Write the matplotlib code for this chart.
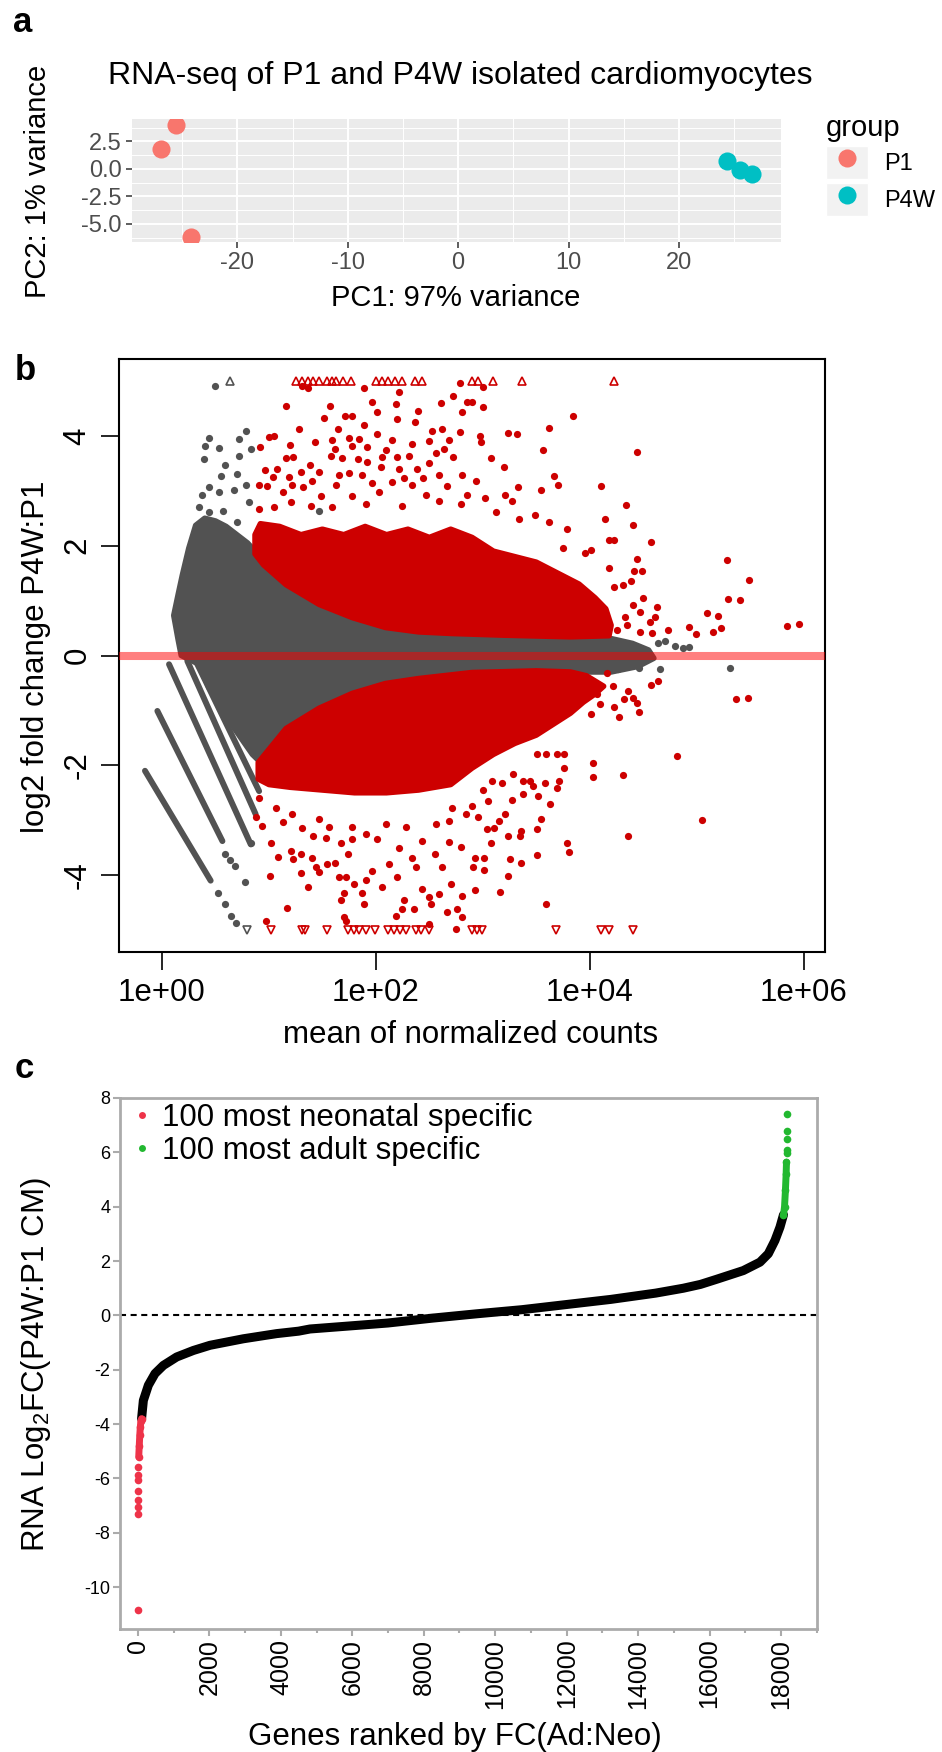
import matplotlib
matplotlib.use('Agg')
import matplotlib.pyplot as plt
import numpy as np
from matplotlib.patches import Polygon, Patch
from matplotlib.lines import Line2D
from matplotlib.legend_handler import HandlerTuple

plt.rcParams['font.family'] = ['Liberation Sans', 'DejaVu Sans']
plt.rcParams['axes.unicode_minus'] = False
plt.rcParams['mathtext.fontset'] = 'custom'
plt.rcParams['mathtext.rm'] = 'Liberation Sans'

W, H = 942, 1752

# ---------------- panel a: PCA ----------------
pc1_p1 = [-25.6, -26.9, -24.2]
pc2_p1 = [4.02, 1.84, -6.17]
pc1_p4w = [24.4, 25.5, 26.6]
pc2_p4w = [0.75, -0.07, -0.43]
pca_xticks = [-20, -10, 0, 10, 20]
pca_xticklabels = ['-20', '-10', '0', '10', '20']
pca_yticks = [-5.0, -2.5, 0.0, 2.5]
pca_yticklabels = ['-5.0', '-2.5', '0.0', '2.5']

# ---------------- panel b: MA plot (log10 mean, log2 FC) ----------------
# dense non-significant cloud outline
gray_cloud_x = [0.18, 0.15, 0.11, 0.15, 0.19, 0.25, 0.315, 0.40, 0.50, 0.60, 0.70, 0.80, 0.87,
                1.16, 1.47, 1.78, 2.09, 2.72, 3.20, 3.82, 4.15, 4.40, 4.55, 4.60, 4.45, 4.20,
                3.80, 3.20, 2.87, 2.40, 2.09, 1.78, 1.47, 1.16, 0.939, 0.845, 0.627, 0.44, 0.346]
gray_cloud_y = [0.0, 0.30, 0.73, 1.10, 1.46, 1.95, 2.37, 2.50, 2.45, 2.35, 2.20, 2.05, 1.90,
                1.25, 0.90, 0.65, 0.48, 0.36, 0.33, 0.31, 0.33, 0.22, 0.10, -0.05, -0.20, -0.30,
                -0.30, -0.27, -0.30, -0.40, -0.50, -0.68, -0.95, -1.30, -1.98, -1.80, -1.19, -0.59, -0.16]
# low-count diagonal streaks (start/end)
streak_x0 = [-0.159, -0.043, 0.066, 0.237, 0.331]
streak_y0 = [-2.10, -1.01, -0.16, -0.10, -0.16]
streak_x1 = [0.455, 0.565, 0.830, 0.876, 0.908]
streak_y1 = [-4.10, -3.38, -3.44, -2.89, -2.47]
gray_pts_x = [0.496, 0.79, 0.72, 0.44, 0.40, 0.53, 0.83, 0.72, 0.39, 0.59, 0.55, 0.70, 0.44,
              0.79, 0.67, 0.53, 0.37, 0.81, 0.57, 0.35, 0.44, 0.70, 1.47, 1.20, 1.38, 1.66,
              4.24, 4.44, 4.64, 4.70, 4.80, 4.87, 4.93, 4.46, 4.66, 5.31, 4.26,
              0.524, 0.59, 0.65, 0.69, 0.59, 0.64, 0.68, 0.774, 0.836]
gray_pts_y = [4.91, 4.08, 3.95, 3.96, 3.81, 3.77, 3.76, 3.64, 3.58, 3.47, 3.27, 3.31, 3.07,
              3.11, 3.01, 2.97, 2.92, 2.79, 2.64, 2.70, 2.61, 2.43, 2.64, 2.16, 1.43, 1.40,
              0.25, 0.16, 0.22, 0.26, 0.17, 0.13, 0.16, -0.22, -0.25, -0.22, -0.25,
              -4.33, -4.53, -4.74, -4.88, -3.61, -3.72, -3.83, -4.13, -3.42]
# dense significant clouds
red_up_x = [0.87, 0.87, 0.92, 1.10, 1.30, 1.50, 1.70, 1.90, 2.10, 2.30, 2.50, 2.70, 2.90, 3.10,
            3.30, 3.50, 3.70, 3.90, 4.05, 4.15, 4.20, 4.18, 3.82, 3.20, 2.72, 2.40, 2.09, 1.78,
            1.47, 1.16, 0.95]
red_up_y = [1.85, 2.20, 2.40, 2.35, 2.20, 2.30, 2.20, 2.35, 2.20, 2.30, 2.15, 2.30, 2.15, 1.90,
            1.80, 1.70, 1.50, 1.30, 1.05, 0.85, 0.55, 0.36, 0.34, 0.37, 0.40, 0.43, 0.51, 0.69,
            0.93, 1.29, 1.65]
red_dn_x = [0.90, 1.16, 1.47, 1.78, 2.09, 2.40, 2.90, 3.50, 3.82, 3.97, 4.13, 4.05, 3.94, 3.82,
            3.66, 3.50, 3.30, 3.10, 2.90, 2.70, 2.40, 2.10, 1.80, 1.50, 1.20, 1.00, 0.90]
red_dn_y = [-1.95, -1.33, -0.96, -0.69, -0.51, -0.42, -0.31, -0.28, -0.30, -0.37, -0.56, -0.70,
            -0.85, -1.05, -1.25, -1.45, -1.60, -1.80, -2.05, -2.35, -2.45, -2.50, -2.50, -2.45,
            -2.40, -2.35, -2.25]
red_pts_x = [1.307, 1.363, 1.893, 2.785, 2.217, 2.725, 2.856, 1.157, 1.575, 1.968, 2.186, 2.613,
             2.398, 1.516, 1.712, 1.781, 2.015, 2.195, 2.364, 2.81, 1.893, 1.282, 1.65, 2.015,
             2.529, 2.622, 2.785, 1.001, 1.048, 1.594, 1.75, 1.843, 2.155, 2.498, 2.685, 0.914,
             1.194, 1.431, 1.618, 1.781, 1.921, 2.093, 2.342, 2.56, 2.638, 1.157, 1.226, 1.578,
             1.681, 1.837, 2.061, 2.195, 2.311, 2.725, 1.382, 1.921, 2.046, 2.498, 0.964, 1.079,
             1.297, 1.469, 1.75, 2.217, 2.389, 1.039, 1.188, 1.407, 1.656, 1.874, 2.264, 2.442,
             2.591, 2.803, 0.908, 0.986, 1.219, 1.319, 1.625, 1.968, 2.155, 2.342, 2.663, 1.132,
             1.484, 1.781, 2.03, 2.467, 2.856, 0.908, 1.048, 1.204, 1.391, 1.594, 1.905, 2.248,
             2.591, 2.794,
             3.006, 2.897, 2.999, 3.841, 3.623, 3.24, 3.318, 2.975, 2.981, 3.567, 4.44, 3.074,
             3.2, 3.667, 2.937, 3.707, 3.333, 3.542, 4.103, 3.208, 3.021, 3.277, 4.337, 3.121,
             3.342, 3.492, 3.62, 4.144, 4.409, 3.785, 4.178, 4.231, 4.571, 3.754, 4.446, 4.184,
             4.415, 4.487, 5.282, 5.488, 4.016, 3.957, 4.315, 4.384, 4.228, 5.291, 5.407, 4.502,
             4.627, 4.409, 5.095, 5.201, 4.471, 4.559, 4.612, 4.736, 4.927, 4.995, 5.151, 5.226,
             5.84, 5.959, 4.58, 4.331, 4.253, 4.346, 4.471,
             0.908, 0.876, 0.939, 1.017, 1.088, 1.007, 0.976, 1.132, 1.204, 1.226, 1.297, 1.297,
             1.369, 1.166, 1.313, 1.4, 1.438, 1.469, 1.547, 1.618, 1.656, 1.718, 1.743, 1.703,
             1.796, 1.672, 1.89, 1.874, 1.703, 1.718, 1.905, 1.968, 2.061, 2.124, 2.202, 2.186,
             2.248, 2.264, 2.357, 2.429, 2.513, 2.498, 2.591, 2.669, 2.763, 2.803, 2.498, 2.748,
             2.7, 2.81, 2.554, 2.616, 2.685, 2.794, 2.373, 2.342, 2.217, 2.015, 1.905, 1.781,
             1.672, 1.531, 1.413, 1.562, 2.435, 2.685, 2.841, 2.56, 2.28, 2.093, 1.781, 1.469,
             1.219, 1.064, 2.716,
             4.159, 4.216, 4.356, 4.403, 4.44, 4.322, 4.231, 4.269, 4.459, 4.574, 4.643, 4.097,
             4.01, 4.066, 5.369, 5.478, 4.814, 4.309, 4.035, 4.035, 3.76, 3.698, 3.763, 3.71,
             3.698, 3.583, 3.629, 3.517, 3.548, 3.505, 3.511, 3.785, 3.81, 4.362, 5.054, 3.592,
             3.355, 3.349, 3.24, 3.255, 3.358, 3.233, 3.162, 3.074, 3.105, 3.043, 3.208, 3.149,
             3.271, 3.374, 3.473, 2.959, 2.928, 3.015, 3.015, 2.931, 2.912, 2.897, 3.38, 3.28,
             3.177, 3.084, 3.006, 3.052, 3.589, 3.505, 3.442]
red_pts_y = [4.915, 4.87, 4.87, 4.96, 4.79, 4.72, 4.62, 4.54, 4.54, 4.61, 4.58, 4.60, 4.45, 4.33,
             4.37, 4.36, 4.43, 4.31, 4.26, 4.43, 4.20, 4.12, 4.12, 4.04, 4.08, 4.13, 4.07, 3.98,
             3.99, 3.92, 3.96, 3.95, 3.92, 3.90, 3.92, 3.79, 3.84, 3.88, 3.76, 3.81, 3.79, 3.75,
             3.85, 3.68, 3.76, 3.59, 3.62, 3.63, 3.59, 3.58, 3.61, 3.61, 3.63, 3.61, 3.47, 3.52,
             3.43, 3.51, 3.37, 3.40, 3.34, 3.34, 3.33, 3.40, 3.39, 3.25, 3.25, 3.17, 3.28, 3.28,
             3.23, 3.23, 3.28, 3.29, 3.10, 3.08, 3.10, 3.07, 3.10, 3.15, 3.16, 3.10, 3.08, 2.98,
             2.90, 2.90, 2.98, 2.92, 2.92, 2.67, 2.70, 2.79, 2.73, 2.70, 2.76, 2.73, 2.82, 2.76,
             4.885, 4.62, 4.52, 4.36, 4.15, 4.05, 4.04, 3.99, 3.88, 3.75, 3.70, 3.59, 3.44, 3.27,
             3.17, 3.10, 3.07, 3.02, 3.08, 2.92, 2.87, 2.81, 2.75, 2.62, 2.49, 2.55, 2.43, 2.48,
             2.37, 2.30, 2.11, 2.11, 2.07, 1.95, 1.76, 1.60, 1.54, 1.54, 1.74, 1.38, 1.93, 1.87,
             1.28, 1.35, 1.25, 1.02, 1.01, 1.05, 0.88, 0.92, 0.77, 0.72, 0.79, 0.61, 0.70, 0.46,
             0.51, 0.40, 0.42, 0.50, 0.53, 0.58, 0.41, 0.70, 0.46, 0.55, 0.43,
             -2.59, -2.95, -3.10, -3.42, -3.67, -4.01, -4.83, -3.04, -3.56, -3.71, -3.61, -3.97,
             -4.22, -4.59, -3.15, -3.68, -3.86, -3.95, -3.80, -3.77, -4.03, -4.03, -3.62, -4.32,
             -4.16, -4.45, -4.52, -4.33, -4.77, -4.83, -4.09, -3.92, -4.21, -3.80, -4.03, -4.74,
             -4.62, -4.45, -4.62, -4.25, -4.52, -4.39, -4.35, -4.68, -4.62, -4.38, -4.89, -4.98,
             -4.16, -4.77, -3.62, -3.86, -3.39, -3.48, -3.86, -3.68, -3.50, -3.35, -3.25, -3.35,
             -3.41, -3.32, -3.29, -3.13, -3.38, -3.01, -2.89, -3.07, -3.13, -3.07, -3.13, -2.98,
             -2.89, -2.77, -2.77,
             -0.32, -0.56, -0.65, -0.77, -0.86, -0.80, -0.94, -1.12, -1.02, -0.53, -0.47, -0.89,
             -1.07, -0.70, -0.79, -0.78, -1.83, -2.18, -1.95, -2.22, -2.05, -1.79, -1.79, -2.29,
             -2.41, -2.32, -2.70, -2.55, -2.97, -3.16, -3.64, -3.42, -3.58, -3.28, -2.99, -4.53,
             -3.19, -3.29, -3.29, -3.71, -3.77, -4.01, -4.30, -3.42, -3.15, -3.16, -2.89, -3.01,
             -2.64, -2.53, -2.38, -2.95, -3.68, -3.69, -3.91, -4.27, -3.86, -2.74, -2.29, -2.15,
             -2.32, -2.29, -2.45, -2.65, -1.80, -1.80, -2.29]
# out-of-range genes drawn as triangles at the plot limits
tri_up_gray_x = [0.636]
tri_dn_gray_x = [0.798]
tri_up_red_x = [1.25, 1.307, 1.363, 1.416, 1.469, 1.547, 1.587, 1.631, 1.693, 1.771, 1.999,
                2.061, 2.117, 2.177, 2.248, 2.367, 2.435, 2.897, 2.959, 3.093, 3.364, 4.228]
tri_dn_red_x = [1.023, 1.307, 1.338, 1.547, 1.743, 1.796, 1.843, 1.905, 1.993, 2.117, 2.17,
                2.227, 2.286, 2.373, 2.42, 2.498, 2.897, 2.943, 2.99, 3.686, 4.106, 4.184, 4.4]
tri_level = 5.0
ma_xticks = [1, 1e2, 1e4, 1e6]
ma_xticklabels = ['1e+00', '1e+02', '1e+04', '1e+06']
ma_yticks = [-4, -2, 0, 2, 4]

# ---------------- panel c: ranked fold changes ----------------
curve_rank = [100, 150, 290, 476, 710, 1083, 1550, 2016, 2950, 3883, 4496, 4815, 6996, 8245,
              9491, 10745, 11994, 13242, 14493, 15266, 15745, 16200, 16946, 17413, 17646, 17833,
              17973, 18070]
curve_lfc = [-3.80, -3.13, -2.57, -2.14, -1.84, -1.53, -1.29, -1.10, -0.86, -0.67, -0.58, -0.50,
             -0.28, -0.10, 0.06, 0.21, 0.40, 0.59, 0.82, 1.00, 1.14, 1.33, 1.65, 1.96, 2.27, 2.76,
             3.25, 3.70]
neo_rank = [1, 2, 3, 4, 6, 8, 10, 13, 20, 35, 50, 65, 80, 100]
neo_lfc = [-10.85, -7.29, -7.05, -6.80, -6.47, -6.07, -5.88, -5.58, -5.21, -4.80, -4.40, -4.10,
           -3.90, -3.80]
adult_rank = [18071, 18100, 18125, 18145, 18155, 18160, 18163, 18166, 18168, 18170]
adult_lfc = [3.70, 4.00, 4.60, 5.21, 5.64, 5.97, 6.07, 6.50, 6.78, 7.42]
rank_xticks = list(range(0, 18001, 2000))

GRAY = '#525252'
RED = '#CD0000'
NEO = '#EE3349'
ADULT = '#22B830'


def ftext(x, y, s, **kw):
    return fig.text(x / W, 1 - y / H, s, **kw)


fig = plt.figure(figsize=(W / 100, H / 100), dpi=100)

# ---- panel a
axa = fig.add_axes([132 / W, 1 - 242 / H, 649 / W, 123 / H])
axa.set_facecolor('#EBEBEB')
axa.scatter(pc1_p1, pc2_p1, s=170, color='#F8766D', lw=0, zorder=3)
axa.scatter(pc1_p4w, pc2_p4w, s=170, color='#00BFC4', lw=0, zorder=3)
axa.set_xlim(-29.55, 29.25)
axa.set_ylim(-6.65, 4.54)
axa.set_xticks(pca_xticks, pca_xticklabels)
axa.set_xticks([-25, -15, -5, 5, 15, 25], minor=True)
axa.set_yticks(pca_yticks, pca_yticklabels)
axa.set_yticks([-6.25, -3.75, -1.25, 1.25, 3.75], minor=True)
axa.grid(which='major', color='white', lw=1.4)
axa.grid(which='minor', color='white', lw=0.7)
axa.set_axisbelow(True)
for s in axa.spines.values():
    s.set_visible(False)
axa.tick_params(which='major', length=4.5, width=1.1, color='#333333', labelsize=17,
                labelcolor='#4D4D4D', pad=3)
axa.tick_params(which='minor', length=0)
ftext(460, 84, 'RNA-seq of P1 and P4W isolated cardiomyocytes', ha='center', va='baseline', fontsize=23)
ftext(456, 306, 'PC1: 97% variance', ha='center', va='baseline', fontsize=21)
ftext(38, 181, 'PC2: 1% variance', ha='center', va='center', rotation=90, fontsize=21)

key_bg = Patch(facecolor='#F2F2F2', edgecolor='white')
h1 = (key_bg, Line2D([], [], ls='none', marker='o', ms=13, color='#F8766D', mew=0))
h2 = (key_bg, Line2D([], [], ls='none', marker='o', ms=13, color='#00BFC4', mew=0))
leg = fig.legend([h1, h2], ['P1', 'P4W'], handler_map={tuple: HandlerTuple(ndivide=1, pad=0)},
                 loc='upper left', bbox_to_anchor=(826 / W, 1 - 114 / H), frameon=False,
                 fontsize=17, title='group', title_fontsize=21, handlelength=1.78,
                 handleheight=1.78, labelspacing=0.17, handletextpad=0.68, borderpad=0,
                 borderaxespad=0, alignment='left')

# ---- panel b
axb = fig.add_axes([119 / W, 1 - 952 / H, 706 / W, 593 / H])
axb.set_xscale('log')
axb.add_patch(Polygon(np.column_stack([10 ** np.array(gray_cloud_x), gray_cloud_y]), closed=True,
                      fc=GRAY, ec=GRAY, lw=4, joinstyle='round', zorder=1))
for x0, y0, x1, y1 in zip(streak_x0, streak_y0, streak_x1, streak_y1):
    axb.plot([10 ** x0, 10 ** x1], [y0, y1], color=GRAY, lw=4.3, solid_capstyle='round', zorder=1)
axb.plot(10 ** np.array(gray_pts_x), gray_pts_y, 'o', ms=5.2, color=GRAY, mew=0, zorder=2)
axb.add_patch(Polygon(np.column_stack([10 ** np.array(red_up_x), red_up_y]), closed=True,
                      fc=RED, ec=RED, lw=4, joinstyle='round', zorder=3))
axb.add_patch(Polygon(np.column_stack([10 ** np.array(red_dn_x), red_dn_y]), closed=True,
                      fc=RED, ec=RED, lw=4, joinstyle='round', zorder=3))
axb.plot(10 ** np.array(red_pts_x), red_pts_y, 'o', ms=5.2, color=RED, mew=0, zorder=4)
axb.plot(10 ** np.array(tri_up_gray_x), [tri_level] * len(tri_up_gray_x), '^', ms=6, mfc='none',
         mec=GRAY, mew=1.2, zorder=4)
axb.plot(10 ** np.array(tri_dn_gray_x), [-tri_level] * len(tri_dn_gray_x), 'v', ms=6, mfc='none',
         mec=GRAY, mew=1.2, zorder=4)
axb.plot(10 ** np.array(tri_up_red_x), [tri_level] * len(tri_up_red_x), '^', ms=6, mfc='none',
         mec=RED, mew=1.2, zorder=4)
axb.plot(10 ** np.array(tri_dn_red_x), [-tri_level] * len(tri_dn_red_x), 'v', ms=6, mfc='none',
         mec=RED, mew=1.2, zorder=4)
axb.axhline(0, color=(1, 0, 0, 0.5), lw=5.8, zorder=5)
axb.set_xlim(10 ** -0.402, 10 ** 6.2)
axb.set_ylim(-5.4, 5.4)
axb.set_xticks(ma_xticks, ma_xticklabels)
axb.set_xticks([], minor=True)
axb.set_yticks(ma_yticks, [str(v) for v in ma_yticks])
axb.tick_params(length=13, width=1.2, labelsize=22.5, pad=6)
for lab in axb.get_yticklabels():
    lab.set_rotation(90)
    lab.set_va('center')
for s in axb.spines.values():
    s.set_linewidth(1.5)
ftext(471, 1043, 'mean of normalized counts', ha='center', va='baseline', fontsize=22.5)
ftext(36, 657, 'log2 fold change P4W:P1', ha='center', va='center', rotation=90, fontsize=22.5)

# ---- panel c
axc = fig.add_axes([120 / W, 1 - 1629 / H, 697 / W, 531 / H])
axc.plot(curve_rank, curve_lfc, color='black', lw=6.5, solid_capstyle='round',
         solid_joinstyle='round', zorder=3)
neo_r = np.array(neo_rank)
neo_v = np.array(neo_lfc)
axc.plot(neo_r[neo_v > -5.3], neo_v[neo_v > -5.3], color=NEO, lw=5, solid_capstyle='round', zorder=4)
axc.plot(neo_r, neo_v, 'o', ms=5.5, color=NEO, mew=0, zorder=4)
ad_r = np.array(adult_rank)
ad_v = np.array(adult_lfc)
axc.plot(ad_r[ad_v < 5.7], ad_v[ad_v < 5.7], color=ADULT, lw=5, solid_capstyle='round', zorder=4)
axc.plot(ad_r, ad_v, 'o', ms=5.5, color=ADULT, mew=0, zorder=4)
axc.axhline(0, color='black', lw=1.5, dashes=(2.9, 2.2), zorder=2)
axc.set_xlim(-504, 19009)
axc.set_ylim(-11.54, 7.98)
axc.set_xticks(rank_xticks, [str(v) for v in rank_xticks])
axc.set_xticks(list(range(1000, 19001, 2000)), minor=True)
axc.set_yticks(list(range(-10, 9, 2)), [str(v) for v in range(-10, 9, 2)])
for s in axc.spines.values():
    s.set_color('#ABABAB')
    s.set_linewidth(2)
axc.tick_params(which='major', color='#ABABAB', width=1.5, length=5, labelsize=13, pad=2)
axc.tick_params(which='minor', color='#ABABAB', width=1.5, length=3)
axc.tick_params(axis='x', labelrotation=90, labelsize=18)
neo_h = Line2D([], [], ls='none', marker='o', ms=5, color=NEO, mew=0)
ad_h = Line2D([], [], ls='none', marker='o', ms=5, color=ADULT, mew=0)
axc.legend([neo_h, ad_h], ['100 most neonatal specific', '100 most adult specific'],
           loc='upper left', bbox_to_anchor=(0.018, 0.99), frameon=False, fontsize=22.5,
           handlelength=0.6, handletextpad=0.34, labelspacing=0.1, borderpad=0, borderaxespad=0)
ftext(455, 1737, 'Genes ranked by FC(Ad:Neo)', ha='center', va='center', fontsize=22.5)
ftext(36, 1365, 'RNA Log$_2$FC(P4W:P1 CM)', ha='center', va='center', rotation=90, fontsize=22.5)

# ---- panel letters
ftext(13, 32, 'a', ha='left', va='baseline', fontsize=25, fontweight='bold')
ftext(15, 380, 'b', ha='left', va='baseline', fontsize=25, fontweight='bold')
ftext(15, 1078, 'c', ha='left', va='baseline', fontsize=25, fontweight='bold')

fig.savefig('out.png', dpi=100)
